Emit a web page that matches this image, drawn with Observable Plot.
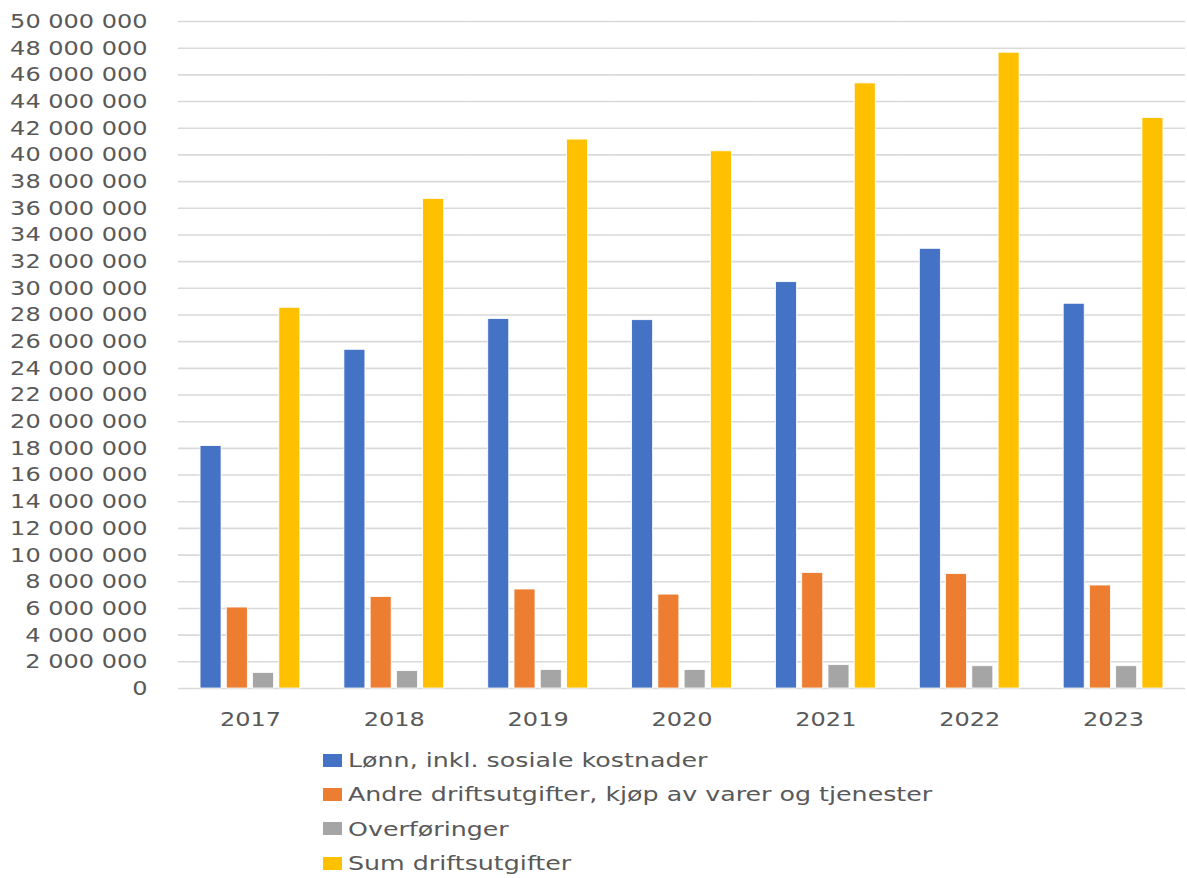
<!DOCTYPE html>
<html>
<head>
<meta charset="utf-8">
<script src="https://cdn.jsdelivr.net/npm/d3@7"></script>
<script src="https://cdn.jsdelivr.net/npm/@observablehq/plot@0.6"></script>
<style>
  html, body { margin: 0; padding: 0; background: white; }
  .legend { position: absolute; left: 323px; top: 743px; font-family: "DejaVu Sans", sans-serif; font-size: 20px; color: #595959; }
  .legend .item { display: flex; align-items: center; height: 34.3px; white-space: nowrap; }
  .legend .sw { width: 19px; height: 13px; margin-right: 6px; flex: none; }
  .legend .lbl { display: inline-block; transform: scaleX(1.265); transform-origin: left center; }
</style>
</head>
<body>
<div id="chart"></div>
<div class="legend" id="legend"></div>
<script>
const years = ["2017", "2018", "2019", "2020", "2021", "2022", "2023"];
const series = [
  "Lønn, inkl. sosiale kostnader",
  "Andre driftsutgifter, kjøp av varer og tjenester",
  "Overføringer",
  "Sum driftsutgifter"
];
const lonn = [18170000, 25390000, 27690000, 27610000, 30460000, 32960000, 28840000];
const andre = [6070000, 6860000, 7420000, 7040000, 8660000, 8580000, 7720000];
const overforinger = [1170000, 1300000, 1390000, 1390000, 1750000, 1670000, 1670000];
const sumDrift = [28540000, 36700000, 41150000, 40270000, 45360000, 47660000, 42770000];
const colors = ["#4472C4", "#ED7D31", "#A5A5A5", "#FFC000"];
const yTicks = [0, 2000000, 4000000, 6000000, 8000000, 10000000, 12000000, 14000000, 16000000, 18000000,
  20000000, 22000000, 24000000, 26000000, 28000000, 30000000, 32000000, 34000000, 36000000, 38000000,
  40000000, 42000000, 44000000, 46000000, 48000000, 50000000];

const seriesValues = [lonn, andre, overforinger, sumDrift];
const data = [];
years.forEach((year, i) => {
  series.forEach((s, j) => data.push({year, series: s, value: seriesValues[j][i]}));
});

const fmt = d => d3.format(",")(d).replace(/,/g, " ");

const chart = Plot.plot({
  width: 1187,
  height: 744,
  marginLeft: 178,
  marginRight: 2,
  marginTop: 21,
  marginBottom: 56,
  style: {fontFamily: "DejaVu Sans, sans-serif", fontSize: "20px", color: "#595959", background: "white"},
  fx: {domain: years, padding: 0, round: false, label: null, tickSize: 0, tickPadding: 23, axis: "bottom"},
  x: {domain: series, axis: null, round: false, paddingInner: 0.2, paddingOuter: 0.84},
  y: {domain: [0, 50000000], ticks: yTicks, tickFormat: fmt, tickSize: 0, tickPadding: 31, label: null},
  color: {domain: series, range: colors},
  marks: [
    Plot.ruleY(yTicks, {stroke: "#d9d9d9", strokeWidth: 1.6}),
    Plot.barY(data, {fx: "year", x: "series", y: "value", fill: "series", stroke: "white", strokeWidth: 0.8})
  ]
});
document.getElementById("chart").appendChild(chart);

// The reference's axis labels are drawn horizontally stretched; widen the glyphs to match.
chart.querySelectorAll('g[aria-label="y-axis tick label"] text, g[aria-label="fx-axis tick label"] text').forEach(el => {
  const w = el.getComputedTextLength();
  el.setAttribute("textLength", (w * 1.2).toFixed(1));
  el.setAttribute("lengthAdjust", "spacingAndGlyphs");
});

const legend = document.getElementById("legend");
series.forEach((s, i) => {
  const item = document.createElement("div");
  item.className = "item";
  const sw = document.createElement("span");
  sw.className = "sw";
  sw.style.background = colors[i];
  const label = document.createElement("span");
  label.className = "lbl";
  label.textContent = s;
  item.appendChild(sw);
  item.appendChild(label);
  legend.appendChild(item);
});
</script>
</body>
</html>
